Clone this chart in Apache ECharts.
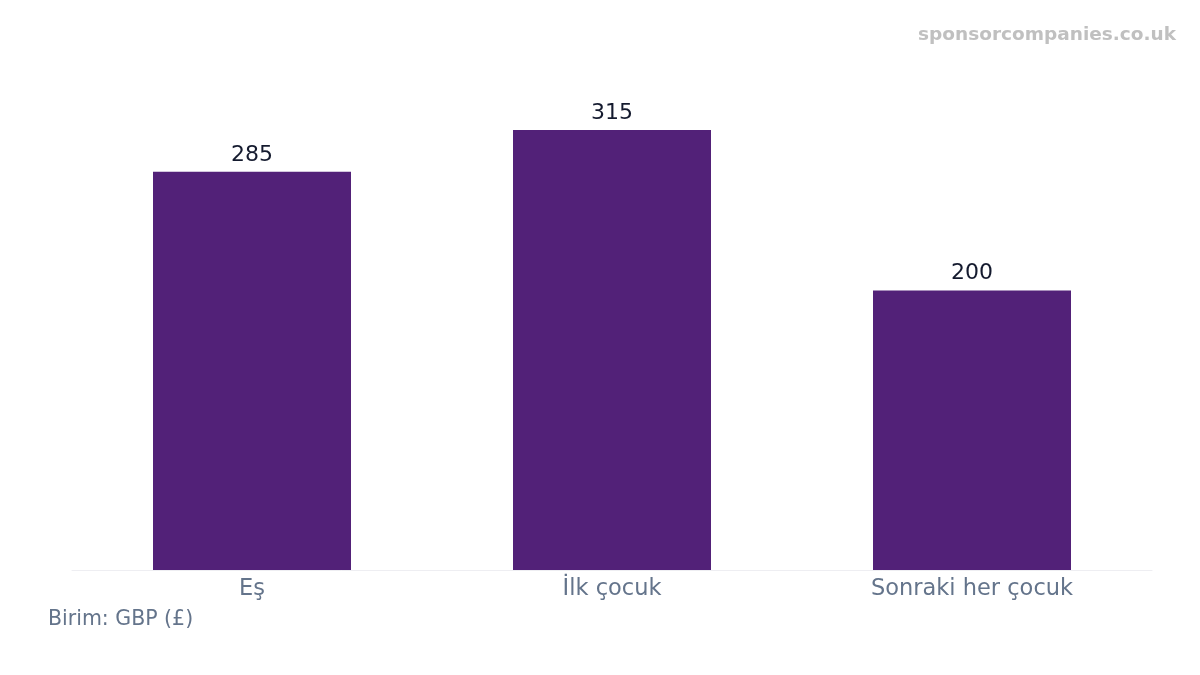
<!DOCTYPE html>
<html><head><meta charset="utf-8">
<script src="https://cdn.jsdelivr.net/npm/echarts@6/dist/echarts.min.js"></script>
<style>html,body{margin:0;padding:0;background:#fff}#c{width:1200px;height:675px}</style>
</head><body><div id="c"></div>
<script>
const categories = ['Eş', 'İlk çocuk', 'Sonraki her çocuk'];
const values = [285, 315, 200];
const unitNote = 'Birim: GBP (£)';
const watermark = 'sponsorcompanies.co.uk';

const chart = echarts.init(document.getElementById('c'), null, {renderer: 'canvas'});
chart.setOption({
  animation: false,
  backgroundColor: '#ffffff',
  textStyle: {fontFamily: 'DejaVu Sans'},
  grid: {left: 72, right: 48, top: 81, bottom: 105, containLabel: false},
  xAxis: {
    type: 'category', data: categories,
    axisLine: {show: true, lineStyle: {color: '#eeeef2', width: 1}},
    axisTick: {show: false},
    axisLabel: {color: '#64748b', fontSize: 22.5, margin: 8, fontFamily: 'DejaVu Sans'}
  },
  yAxis: {type: 'value', min: 0, max: 350, show: false, splitLine: {show: false}},
  series: [{
    type: 'bar', data: values, barWidth: '55%',
    itemStyle: {color: '#522178'},
    label: {show: true, position: 'top', distance: 6, color: '#141a2e', fontSize: 22, fontFamily: 'DejaVu Sans'}
  }],
  graphic: [
    {type: 'text', left: 48, top: 609, style: {text: unitNote, fill: '#64748b', fontSize: 20.5, fontFamily: 'DejaVu Sans'}},
    {type: 'text', right: 24, top: 26, style: {text: watermark, fill: '#c0c0c0', fontSize: 18.5, fontWeight: 'bold', fontFamily: 'DejaVu Sans', shadowColor: 'rgba(0,0,0,0.3)', shadowBlur: 2, shadowOffsetX: 1, shadowOffsetY: 1}}
  ]
});
</script></body></html>
